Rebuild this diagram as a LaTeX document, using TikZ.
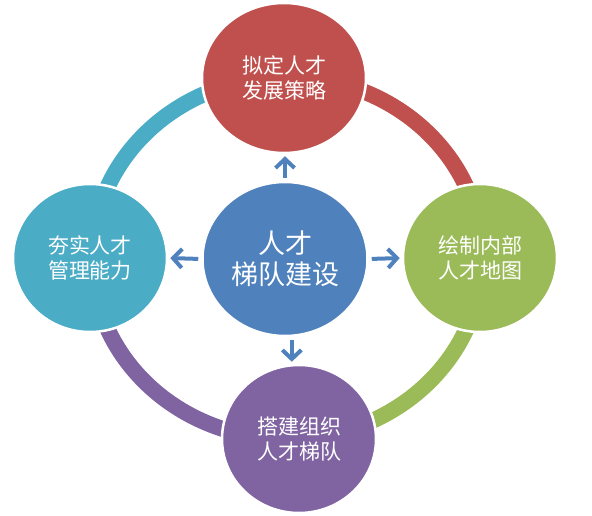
\documentclass[tikz,border=0pt]{standalone}
\usepackage{fontspec}
\newfontfamily\cjk{Noto Sans CJK SC}
\usepackage{tikz}
\usetikzlibrary{positioning,arrows.meta,shapes.geometric}
\definecolor{hubblue}{HTML}{4F81BD}
\definecolor{topred}{HTML}{C0504D}
\definecolor{rightgreen}{HTML}{9BBB59}
\definecolor{bottompurple}{HTML}{8064A2}
\definecolor{leftteal}{HTML}{4BACC6}

\begin{document}
\begin{tikzpicture}[
  x=1pt, y=1pt,
  >={Straight Barb[length=9pt,width=19pt]},
  leaf/.style={ellipse, draw=white, line width=2.5pt, text=white,
               minimum width=154pt, minimum height=148pt, align=center,
               inner sep=0pt, font=\cjk\fontsize{21}{25}\selectfont},
  hub/.style={leaf, fill=hubblue, minimum width=165pt, minimum height=154pt,
              font=\cjk\fontsize{27}{31}\selectfont},
  ring/.style={line width=16pt},
  arr/.style={->, line width=4pt, hubblue, shorten >=2pt, shorten <=3pt},
]
\useasboundingbox (0,0) rectangle (592,-516);
\coordinate (rc) at (287,-258);
\foreach \a/\c in {90/topred, 0/rightgreen, -90/bottompurple, -180/leftteal}
  \draw[ring,\c] (rc) ++(\a:195 and 181)
    arc[start angle=\a, end angle=\a-90, x radius=195, y radius=181];
\node[hub] (hub) at (285,-259) {人才\\梯队建设};
\node[leaf, fill=topred, minimum width=164pt, minimum height=150pt]
  (strategy) at (284,-78) {拟定人才\\发展策略};
\node[leaf, fill=rightgreen]   (map)   at (480,-258) {绘制内部\\人才地图};
\node[leaf, fill=bottompurple] (build) at (299,-439) {搭建组织\\人才梯队};
\node[leaf, fill=leftteal]     (skill) at (90,-258)  {夯实人才\\管理能力};
\draw[arr] (hub.north) -- (hub.north |- strategy.south);
\draw[arr] (hub.east)  -- (map.west);
\draw[arr] (hub.-85)   -- (hub.-85 |- build.north);
\draw[arr] (hub.west)  -- (skill.east);
\end{tikzpicture}
\end{document}
